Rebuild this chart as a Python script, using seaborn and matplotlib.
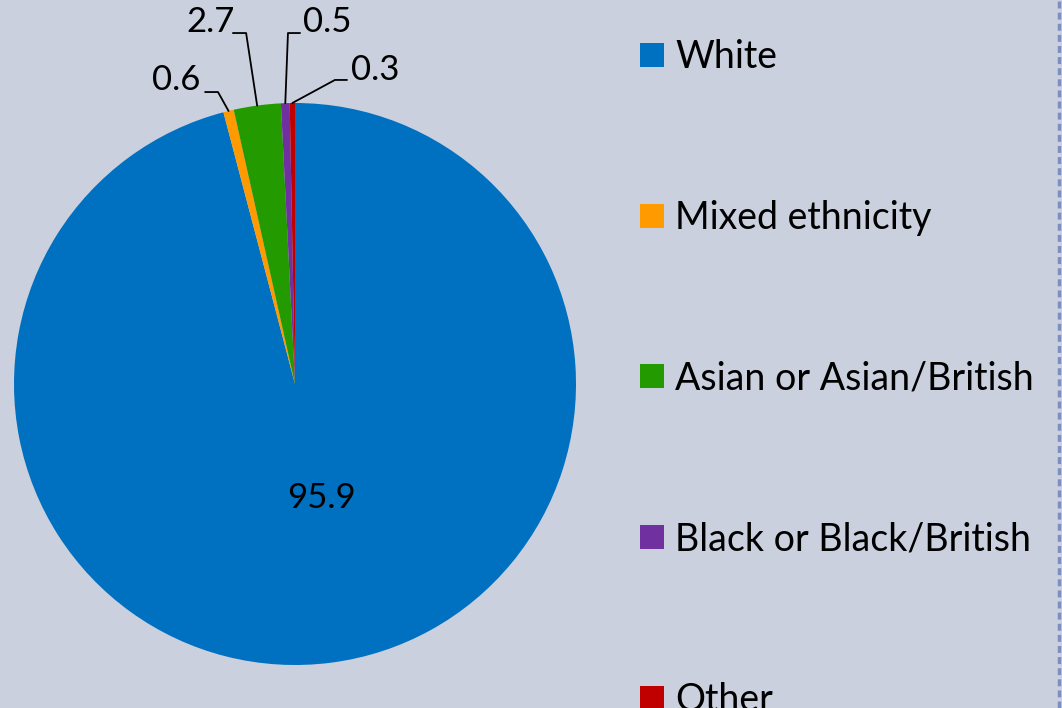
import matplotlib
matplotlib.use("Agg")
import matplotlib.pyplot as plt
from matplotlib.lines import Line2D
import numpy as np
import seaborn as sns

# data
groups = ['White', 'Mixed ethnicity', 'Asian or Asian/British',
          'Black or Black/British', 'Other']
shares = [95.9, 0.6, 2.7, 0.5, 0.3]
colours = ['#0070C0', '#FF9A00', '#229A00', '#7030A0', '#C00000']

sns.set_style('white')
plt.rcParams['font.family'] = ['Lato', 'DejaVu Sans']
plt.rcParams['text.color'] = 'black'

bg = '#CAD0DE'
W, H = 1062, 708
fig = plt.figure(figsize=(W / 100, H / 100), dpi=100, facecolor=bg)
ax = fig.add_axes([0, 0, 1, 1])
ax.set_facecolor(bg)

wedges, _ = ax.pie(shares, colors=colours, startangle=90, counterclock=False,
                   radius=1, wedgeprops=dict(linewidth=0))

# pie centre at pixel (295, 384), radius 281 px
cx, cy, R = 295, 384, 281
ax.set_xlim(-cx / R, (W - cx) / R)
ax.set_ylim(-(H - cy) / R, cy / R)
ax.set_aspect('equal')
ax.axis('off')


def mid(w, r):
    a = np.deg2rad((w.theta1 + w.theta2) / 2)
    return r * np.cos(a), r * np.sin(a)


# big label inside the white slice
x, y = mid(wedges[0], 0.41)
ax.text(x + 0.04, y, f'{shares[0]:.1f}', ha='center', va='center', fontsize=25)

# small slices: text, elbow of leader line, text side of leader line
lab_pos = {1: ((-0.423, 1.082), (-0.274, 1.039), (-0.320, 1.039)),
           2: ((-0.302, 1.288), (-0.174, 1.249), (-0.221, 1.249)),
           3: ((0.114, 1.288), (-0.025, 1.249), (0.018, 1.249)),
           4: ((0.285, 1.117), (0.142, 1.082), (0.185, 1.082))}
for i, (tp, elbow, start) in lab_pos.items():
    ex, ey = mid(wedges[i], 1.0)
    ax.plot([start[0], elbow[0], ex], [start[1], elbow[1], ey],
            color='black', lw=1.3, clip_on=False)
    ax.text(tp[0], tp[1], f'{shares[i]:.1f}', ha='center', va='center', fontsize=25)

handles = [Line2D([], [], marker='s', linestyle='', markersize=17,
                  markerfacecolor=c, markeredgewidth=0) for c in colours]
leg = fig.legend(handles, groups, loc='upper left',
                 bbox_to_anchor=(620 / W, 1 - 20 / H),
                 frameon=False, fontsize=27, labelspacing=3.33,
                 handlelength=0.7, handletextpad=0.27, borderpad=0)

# dashed border on the right edge
fig.add_artist(Line2D([1059 / W, 1059 / W], [0, 1], color='#7B8FC0',
                      lw=2.5, linestyle=(0, (2, 1.2))))

fig.savefig('out.png', dpi=100, facecolor=bg)
